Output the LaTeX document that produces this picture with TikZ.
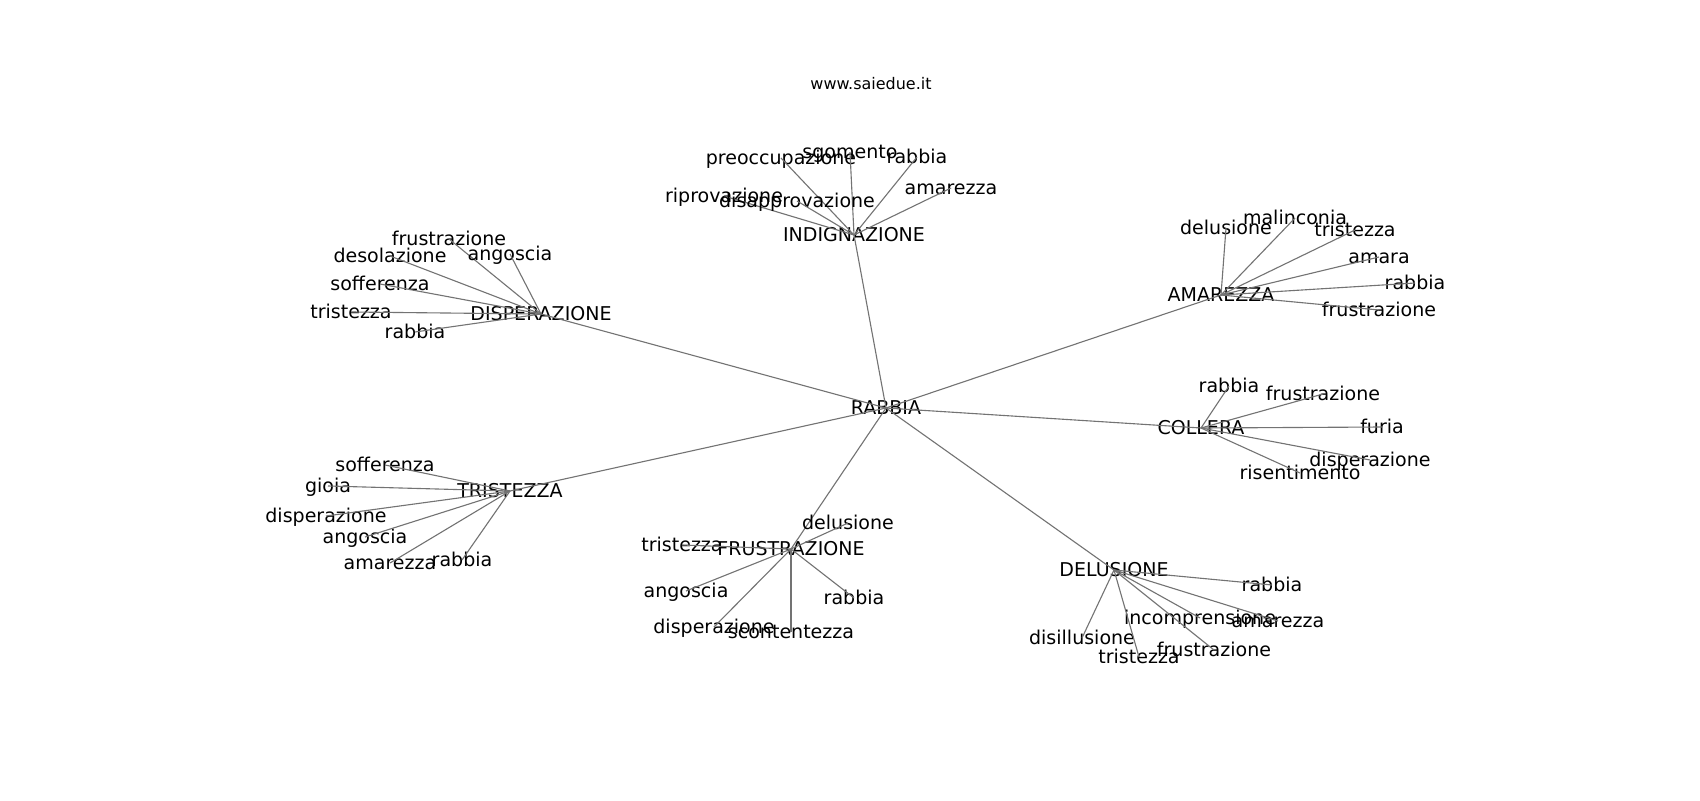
\documentclass[tikz,border=0pt]{standalone}
\usepackage{fontspec}
\setmainfont{DejaVu Sans}
\usepackage{tikz}

\begin{document}
\begin{tikzpicture}[x=0.72pt,y=-0.72pt,
    word/.style={font=\fontsize{13.7}{16}\selectfont, inner sep=0pt, text height=0.92em, text depth=0pt},
    link/.style={draw=black!55, line width=0.8pt}]
\useasboundingbox (0,0) rectangle (1700,800);

% Title
\node[font=\fontsize{11.5}{14}\selectfont] (title) at (871,84) {www.saiedue.it};

% Centre
\node[word] (rabbia) at (886,408) {RABBIA};

% Hubs round the centre
\foreach \n/\x/\y/\t in {indig/854/235/INDIGNAZIONE, disp/541/314/DISPERAZIONE, amar/1221/295/AMAREZZA,
    coll/1201/428/COLLERA, trist/510/491/TRISTEZZA, frustr/791/549/FRUSTRAZIONE, delus/1114/570/DELUSIONE} {
    \node[word] (\n) at (\x,\y) {\t};
    \draw[link] (rabbia.center) -- (\n.center);
}

% Indignazione
\foreach \x/\y/\t [count=\i] in {781/158/preoccupazione, 850/152/sgomento, 917/157/rabbia,
    951/188/amarezza, 724/196/riprovazione, 797/201/disapprovazione} {
    \node[word] (indig\i) at (\x,\y) {\t};
    \draw[link] (indig.center) -- (indig\i.center);
}

% Disperazione
\foreach \x/\y/\t [count=\i] in {449/239/frustrazione, 390/256/desolazione, 510/254/angoscia,
    380/284/sofferenza, 351/312/tristezza, 415/332/rabbia} {
    \node[word] (disp\i) at (\x,\y) {\t};
    \draw[link] (disp.center) -- (disp\i.center);
}

% Amarezza
\foreach \x/\y/\t [count=\i] in {1226/228/delusione, 1295/218/malinconia, 1355/230/tristezza,
    1379/257/amara, 1415/283/rabbia, 1379/310/frustrazione} {
    \node[word] (amar\i) at (\x,\y) {\t};
    \draw[link] (amar.center) -- (amar\i.center);
}

% Collera
\foreach \x/\y/\t [count=\i] in {1229/386/rabbia, 1323/394/frustrazione, 1382/427/furia,
    1370/460/disperazione, 1300/473/risentimento} {
    \node[word] (coll\i) at (\x,\y) {\t};
    \draw[link] (coll.center) -- (coll\i.center);
}

% Tristezza
\foreach \x/\y/\t [count=\i] in {385/465/sofferenza, 328/486/gioia, 326/516/disperazione,
    365/537/angoscia, 390/563/amarezza, 462/560/rabbia} {
    \node[word] (trist\i) at (\x,\y) {\t};
    \draw[link] (trist.center) -- (trist\i.center);
}

% Frustrazione
\foreach \x/\y/\t [count=\i] in {848/523/delusione, 682/545/tristezza, 686/591/angoscia,
    854/598/rabbia, 714/627/disperazione, 791/632/scontentezza} {
    \node[word] (frustr\i) at (\x,\y) {\t};
    \draw[link] (frustr.center) -- (frustr\i.center);
}

% Delusione
\foreach \x/\y/\t [count=\i] in {1272/585/rabbia, 1200/618/incomprensione, 1278/621/amarezza,
    1082/638/disillusione, 1139/657/tristezza, 1214/650/frustrazione} {
    \node[word] (delus\i) at (\x,\y) {\t};
    \draw[link] (delus.center) -- (delus\i.center);
}
\end{tikzpicture}
\end{document}
